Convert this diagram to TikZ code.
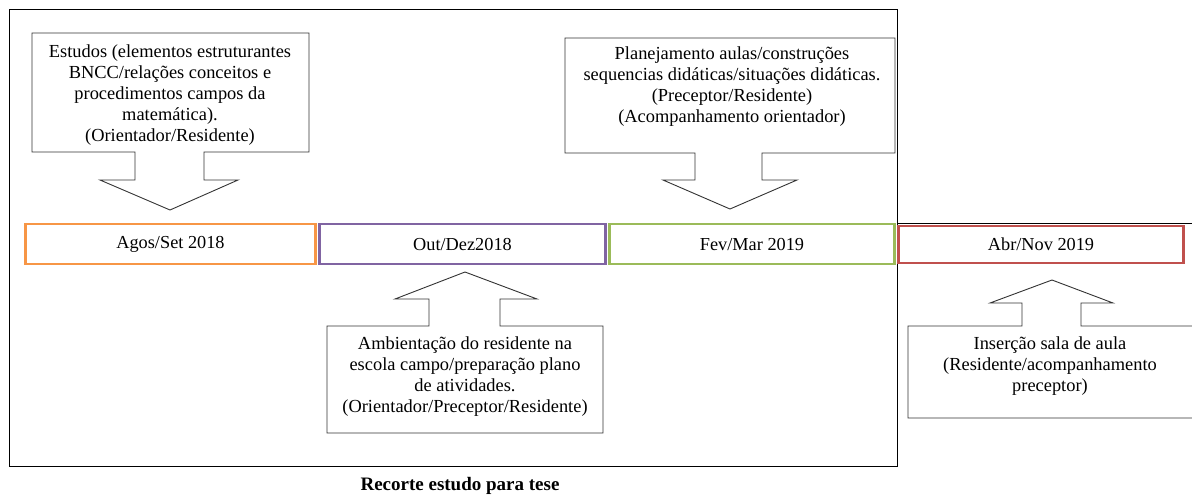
\documentclass[tikz,border=0pt]{standalone}
\usepackage{fontspec}
\setmainfont{Liberation Serif}
\definecolor{corange}{HTML}{F79646}
\definecolor{cpurple}{HTML}{8064A2}
\definecolor{cgreen}{HTML}{9BBB59}
\definecolor{cred}{HTML}{C0504D}
\begin{document}
\begin{tikzpicture}[x=1pt,y=-1pt,
  callout/.style={draw=black!80, fill=white, line width=0.9pt, line join=miter},
  frame/.style={draw=black, line width=0.9pt},
  period/.style={draw, line width=2.8pt, minimum height=40pt, inner sep=0pt, font=\fontsize{18.3}{21}\selectfont},
  txt/.style={align=center, inner sep=0pt, font=\fontsize{18.4}{21}\selectfont},
  caption/.style={inner sep=0pt, font=\bfseries\fontsize{19}{22}\selectfont}]
\useasboundingbox (0,0) rectangle (1192,499);
\fill[white] (0,0) rectangle (1192,499);
% outer frame
\draw[frame] (9,9) rectangle (897,466);
\coordinate (lineA) at (897,223.5);
\coordinate (lineB) at (1192,223.5);
\draw[frame] (lineA) -- (lineB);
% callouts
\draw[callout] (32,33) -- (309,33) -- (309,152) -- (204,152) -- (204,180) -- (238,180) -- (170,210) -- (100,180) -- (135,180) -- (135,152) -- (32,152) -- cycle;
\draw[callout] (565,38) -- (895,38) -- (895,153) -- (762,153) -- (762,180) -- (797,180) -- (730,209) -- (663,180) -- (695,180) -- (695,153) -- (565,153) -- cycle;
\draw[callout] (327,433) -- (603,433) -- (603,326) -- (500,326) -- (500,299) -- (537,299) -- (465,272) -- (395,299) -- (429,299) -- (429,326) -- (327,326) -- cycle;
\draw[callout] (908,418) -- (1194,418) -- (1194,326) -- (1081,326) -- (1081,303) -- (1113,303) -- (1052,280) -- (990,303) -- (1022,303) -- (1022,326) -- (908,326) -- cycle;
% texts
\node[txt] (t1) at (170,95) {Estudos (elementos estruturantes\\BNCC/relações conceitos e\\procedimentos campos da\\matemática).\\(Orientador/Residente)};
\node[txt] (t3) at (732,87) {Planejamento aulas/construções\\sequencias didáticas/situações didáticas.\\(Preceptor/Residente)\\(Acompanhamento orientador)};
\node[txt] (t2) at (465,377) {Ambientação do residente na\\escola campo/preparação plano\\de atividades.\\(Orientador/Preceptor/Residente)};
\node[txt] (t4) at (1050,366) {Inserção sala de aula\\(Residente/acompanhamento\\preceptor)};
% periods
\node[period, draw=corange, minimum width=290pt] (p1) at (170.5,244) {Agos/Set 2018};
\node[period, draw=cpurple, minimum width=286pt] (p2) at (462.5,244) {Out/Dez2018};
\node[period, draw=cgreen, minimum width=285pt] (p3) at (752,244) {Fev/Mar 2019};
\node[period, draw=cred, minimum width=285pt, minimum height=37pt] (p4) at (1041,244.5) {Abr/Nov 2019};
% caption
\node[caption] (cap) at (460,486) {Recorte estudo para tese};
\end{tikzpicture}
\end{document}
